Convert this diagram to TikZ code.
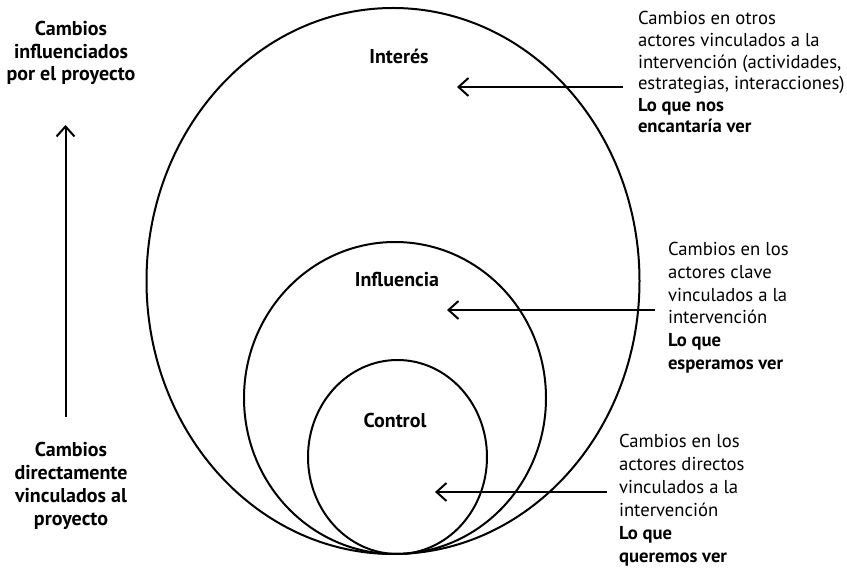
\documentclass[tikz,border=0pt]{standalone}
\usepackage{fontspec}
\setmainfont{PT Sans}
\usetikzlibrary{arrows.meta,shapes.geometric}

\begin{document}
\begin{tikzpicture}[x=0.75pt, y=-0.75pt, line width=1.5pt,
        >={Straight Barb[length=7.5pt,width=13.5pt]}]

        \def\pxl{0.75pt}            % one pixel of the sketch
        \tikzstyle{ring}=[ellipse,draw=black,line width=1.5pt,inner sep=0pt]
        \tikzstyle{zone}=[inner sep=0pt,font=\fontsize{15pt}{17pt}\bfseries\selectfont]
        \tikzstyle{annot}=[align=left,anchor=north west,inner sep=0pt]
        \tikzstyle{side}=[align=center,anchor=north,inner sep=0pt]
        \tikzset{leading/.style = {font={\fontsize{14pt}{#1pt}\selectfont}}}

        \useasboundingbox (0,0) rectangle (847,570);

        % Draw the three spheres
        \node[ring,minimum width=493*\pxl,minimum height=546*\pxl] (Interes) at (393,281) {};
        \node[ring,minimum width=302*\pxl,minimum height=312*\pxl] (Influencia) at (395,398) {};
        \node[ring,minimum width=179*\pxl,minimum height=194*\pxl] (Control) at (397.5,457) {};

        \node[zone] (Lab-1) at (399,56) {Interés};
        \node[zone] (Lab-2) at (397,280) {Influencia};
        \node[zone] (Lab-3) at (395,421) {Control};

        % Draw the explanations on the right
        \node[annot,leading=16.2] (Txt-1) at (637,10.6)
            {Cambios en otros\\actores vinculados a la\\intervención (actividades,\\estrategias, interacciones)\\\textbf{Lo que nos}\\\textbf{encantaría ver}};
        \node[annot,leading=17] (Txt-2) at (667,241.6)
            {Cambios en los\\actores clave\\vinculados a la\\intervención\\\textbf{Lo que}\\\textbf{esperamos ver}};
        \node[annot,leading=17.25] (Txt-3) at (618,433.6)
            {Cambios en los\\actores directos\\vinculados a la\\intervención\\\textbf{Lo que}\\\textbf{queremos ver}};

        \coordinate (Tip-1) at (457,87);
        \coordinate (Tip-2) at (447,310);
        \coordinate (Tip-3) at (435,492);
        \draw[->] ([xshift=-10.5pt]Txt-1.west |- Tip-1) -- (Tip-1);
        \draw[->] ([xshift=-9pt]Txt-2.west |- Tip-2) -- (Tip-2);
        \draw[->] ([xshift=-8.25pt]Txt-3.west |- Tip-3) -- (Tip-3);

        % Draw the scale on the left
        \node[side,font=\fontsize{15pt}{16.9pt}\bfseries\selectfont] (High) at (71,20.6)
            {Cambios\\influenciados\\por el proyecto};
        \node[side,font=\fontsize{15pt}{17.2pt}\bfseries\selectfont] (Low) at (71,441.6)
            {Cambios\\directamente\\vinculados al\\proyecto};

        \coordinate (Up-tail) at (65.5,417);
        \coordinate (Up-tip) at (65.5,125);
        \draw[->] (Up-tail) -- (Up-tip);

\end{tikzpicture}
\end{document}
